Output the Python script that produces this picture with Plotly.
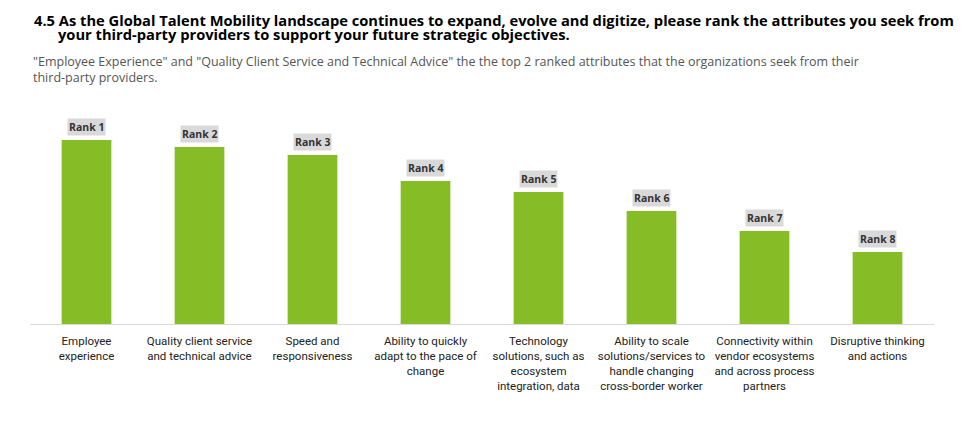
import plotly.graph_objects as go

categories = [
    "Employee<br>experience",
    "Quality client service<br>and technical advice",
    "Speed and<br>responsiveness",
    "Ability to quickly<br>adapt to the pace of<br>change",
    "Technology<br>solutions, such as<br>ecosystem<br>integration, data",
    "Ability to scale<br>solutions/services to<br>handle changing<br>cross-border worker",
    "Connectivity within<br>vendor ecosystems<br>and across process<br>partners",
    "Disruptive thinking<br>and actions",
]
scores = [184, 177, 169, 143, 132, 113, 93, 72]  # relative bar heights
ranks = ["Rank 1", "Rank 2", "Rank 3", "Rank 4", "Rank 5", "Rank 6", "Rank 7", "Rank 8"]

title_1 = ("4.5 As the Global Talent Mobility landscape continues to expand, evolve and digitize, "
           "please rank the attributes you seek from")
title_2 = "your third-party providers to support your future strategic objectives."
subtitle = ('"Employee Experience" and "Quality Client Service and Technical Advice" the the top 2 '
            'ranked attributes that the organizations seek from their<br>third-party providers.')

W, H = 972, 435
TOP, BOTTOM, LEFT, RIGHT = 115, 111, 30, 38
plot_h = H - TOP - BOTTOM
plot_w = W - LEFT - RIGHT


def py(px):  # pixel y from top -> paper y
    return (H - BOTTOM - px) / plot_h


def pxx(px):  # pixel x from left -> paper x
    return (px - LEFT) / plot_w


fig = go.Figure()
fig.add_trace(go.Bar(x=categories, y=scores, width=0.44,
                     marker=dict(color="#86bc25", line=dict(width=0)),
                     hoverinfo="skip"))

# rank labels above each bar
for c, s, r in zip(categories, scores, ranks):
    fig.add_annotation(x=c, y=s, text="<b>" + r + "</b>", showarrow=False,
                       yanchor="bottom", yshift=4, bgcolor="#d9d9d9",
                       borderpad=1, font=dict(size=10.5, color="#333333",
                                              family="Open Sans"))

fig.add_annotation(text="<b>" + title_1 + "</b>", xref="paper", yref="paper",
                   x=pxx(32), y=py(20), xanchor="left", yanchor="middle",
                   showarrow=False, font=dict(size=14.7, color="#000000", family="Open Sans"))
fig.add_annotation(text="<b>" + title_2 + "</b>", xref="paper", yref="paper",
                   x=pxx(56), y=py(34.5), xanchor="left", yanchor="middle",
                   showarrow=False, font=dict(size=14.7, color="#000000", family="Open Sans"))
fig.add_annotation(text=subtitle, xref="paper", yref="paper", align="left",
                   x=pxx(31), y=py(69), xanchor="left", yanchor="middle",
                   showarrow=False, font=dict(size=12.5, color="#555555", family="Open Sans"))

fig.update_layout(
    width=W, height=H,
    margin=dict(l=LEFT, r=RIGHT, t=TOP, b=BOTTOM, autoexpand=False),
    plot_bgcolor="white", paper_bgcolor="white",
    showlegend=False,
    font=dict(family="Roboto, sans-serif", size=12, color="#222222"),
)
fig.update_xaxes(showline=True, linecolor="#d9d9d9", linewidth=1, ticks="",
                 tickangle=0, automargin=False, ticklabelstandoff=6,
                 tickfont=dict(size=11.5), showgrid=False)
fig.update_yaxes(range=[0, plot_h], visible=False, showgrid=False)

# page body has an 8px default margin; drop it so the chart sits at 0,0
fig.write_html("out.html", config={"displayModeBar": False},
               post_script="document.body.style.margin='0';")
